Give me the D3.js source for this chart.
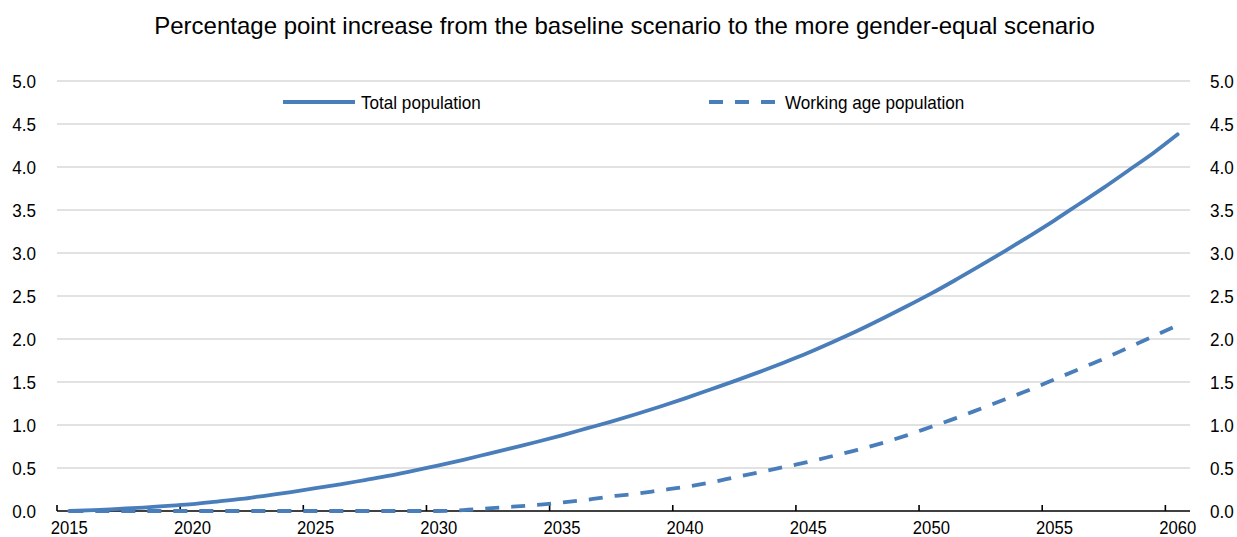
<!DOCTYPE html>
<html><head><meta charset="utf-8">
<script src="https://cdn.jsdelivr.net/npm/d3@7"></script>
<style>body{margin:0;background:#fff}svg{display:block;font-family:"Liberation Sans",Arial,sans-serif}</style>
</head><body><svg id="c" width="1237" height="537"></svg>
<script>
const title = "Percentage point increase from the baseline scenario to the more gender-equal scenario";
const years = d3.range(2015, 2061);
const totalPopulation = [0.00,0.01,0.025,0.04,0.06,0.08,0.11,0.14,0.18,0.22,
  0.265,0.31,0.36,0.41,0.47,0.53,0.595,0.665,0.735,0.805,
  0.88,0.96,1.04,1.125,1.215,1.31,1.41,1.51,1.615,1.725,
  1.84,1.965,2.095,2.235,2.38,2.53,2.69,2.855,3.025,3.20,
  3.38,3.57,3.76,3.96,4.16,4.38];
const workingAgePopulation = [0,0,0,0,0,0,0,0,0,0,
  0,0,0,0,0,0.00,0.01,0.03,0.05,0.07,
  0.10,0.13,0.17,0.20,0.24,0.28,0.33,0.39,0.45,0.51,
  0.57,0.64,0.71,0.79,0.88,0.98,1.08,1.19,1.30,1.41,
  1.53,1.65,1.77,1.90,2.03,2.16];
const yTicks = [0,0.5,1,1.5,2,2.5,3,3.5,4,4.5,5];
const xTickYears = [2015,2020,2025,2030,2035,2040,2045,2050,2055,2060];
const seriesNames = ["Total population","Working age population"];

const color = "#4a7ebb";
const svg = d3.select("#c");
const L = 57, R = 1190, T = 81, B = 511;
const x = d3.scaleBand().domain(years).range([L, R]).padding(0);
const bw = x.bandwidth();
const y = d3.scaleLinear().domain([0, 5]).range([B, T]);

// condense glyphs horizontally like the reference
function condense(sel, k) {
  sel.each(function () {
    const w = this.getComputedTextLength();
    d3.select(this).attr("textLength", w * k).attr("lengthAdjust", "spacingAndGlyphs");
  });
}

// gridlines
svg.append("g").selectAll("line").data(yTicks.filter(d => d > 0)).join("line")
  .attr("x1", L).attr("x2", R).attr("y1", d => y(d)).attr("y2", d => y(d))
  .attr("stroke", "#d9d9d9").attr("stroke-width", 1.3);

// title
svg.append("text").attr("x", (L + R) / 2 + 1).attr("y", 34).attr("text-anchor", "middle")
  .attr("font-size", 24).attr("fill", "#000").text(title);

// left & right axes
const fmt = d3.format(".1f");
const ya = svg.append("g").attr("transform", `translate(${L - 21},0)`)
  .call(d3.axisLeft(y).tickValues(yTicks).tickSize(0).tickFormat(fmt));
const yb = svg.append("g").attr("transform", `translate(${R + 20},0)`)
  .call(d3.axisRight(y).tickValues(yTicks).tickSize(0).tickFormat(fmt));
[ya, yb].forEach(g => {
  g.select(".domain").remove();
  g.selectAll("text").attr("x", 0).attr("font-size", 19).attr("fill", "#000").attr("font-family", null)
    .attr("dy", "0.36em").call(condense, 0.9);
});

// x axis
const xa = svg.append("g").attr("transform", `translate(0,${B})`)
  .call(d3.axisBottom(x).tickValues(xTickYears).tickSize(0).tickPadding(0));
xa.select(".domain").attr("d", `M${L},0H${R}`).attr("stroke", "#000").attr("stroke-width", 1.6);
xa.selectAll(".tick line").attr("x1", -bw / 2).attr("x2", -bw / 2).attr("y2", -6)
  .attr("stroke", "#000").attr("stroke-width", 1.6);
xa.selectAll(".tick text").attr("y", 22.5).attr("dy", 0).attr("font-size", 18.5)
  .attr("fill", "#000").attr("font-family", null).call(condense, 0.9);

// lines
const line = d3.line().x((d, i) => x(years[i]) + bw / 2).y(d => y(d)).curve(d3.curveMonotoneX);
svg.append("path").datum(totalPopulation).attr("d", line).attr("fill", "none")
  .attr("stroke", color).attr("stroke-width", 3.8).attr("stroke-linecap", "round");
svg.append("path").datum(workingAgePopulation).attr("d", line).attr("fill", "none")
  .attr("stroke", color).attr("stroke-width", 3.8).attr("stroke-dasharray", "14,12");

// legend
const lg = svg.append("g");
lg.append("line").attr("x1", 283).attr("x2", 355).attr("y1", 102).attr("y2", 102)
  .attr("stroke", color).attr("stroke-width", 3.8);
lg.append("text").attr("x", 361).attr("y", 109).attr("font-size", 19).text(seriesNames[0]).call(condense, 0.9);
lg.append("line").attr("x1", 709).attr("x2", 779).attr("y1", 102).attr("y2", 102)
  .attr("stroke", color).attr("stroke-width", 3.8).attr("stroke-dasharray", "14,12");
lg.append("text").attr("x", 785).attr("y", 109).attr("font-size", 19).text(seriesNames[1]).call(condense, 0.9);
</script></body></html>
